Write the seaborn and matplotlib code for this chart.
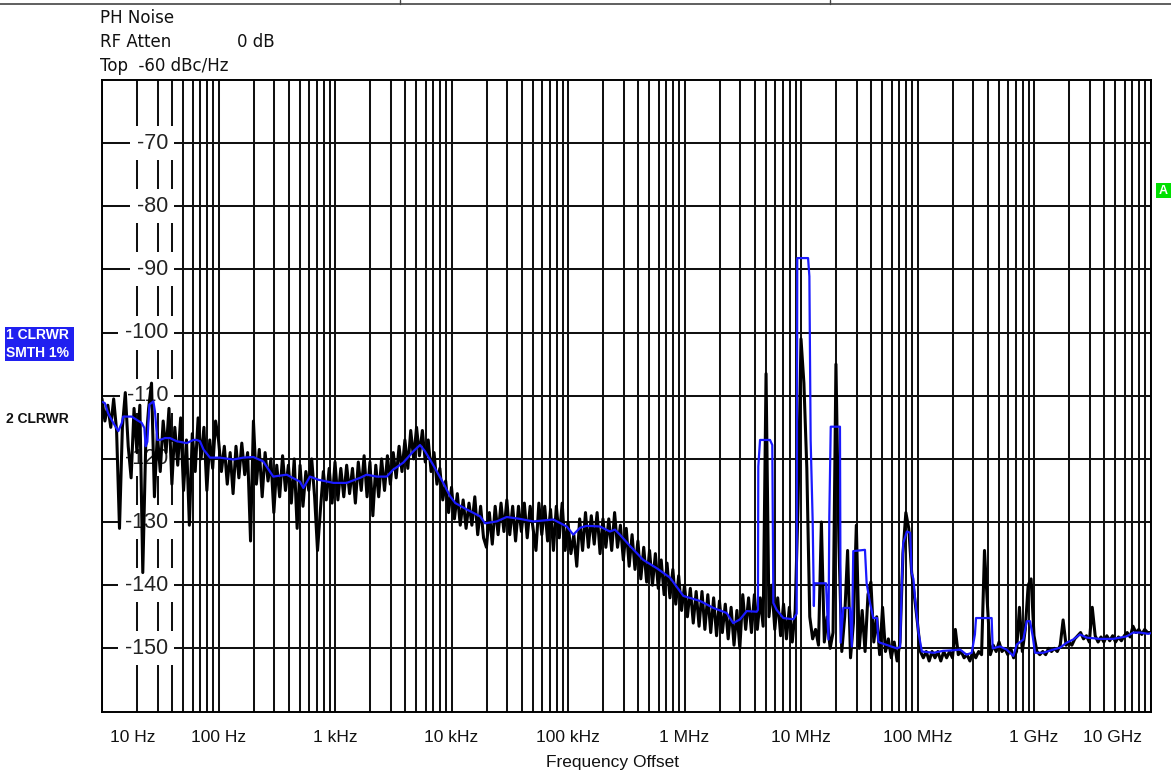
import matplotlib
matplotlib.use("Agg")
import matplotlib.pyplot as plt
from matplotlib.lines import Line2D
from matplotlib.patches import Rectangle
from matplotlib.transforms import blended_transform_factory
import seaborn as sns
import pandas as pd

# ---------------- data ----------------
# sweep mantissas of the analyzer (40 points per decade)
mantissa = [1.000, 1.059, 1.122, 1.189, 1.259, 1.334, 1.413, 1.496, 1.585, 1.679,
            1.778, 1.884, 1.995, 2.113, 2.239, 2.371, 2.512, 2.661, 2.818, 2.985,
            3.162, 3.350, 3.548, 3.758, 3.981, 4.217, 4.467, 4.732, 5.012, 5.309,
            5.623, 5.957, 6.310, 6.683, 7.079, 7.499, 7.943, 8.414, 8.913, 9.441]
decades = [1e1, 1e2, 1e3, 1e4, 1e5, 1e6, 1e7, 1e8, 1e9]

# trace 2 (raw, black), dBc/Hz, one list per decade
black_10Hz = [-110.5, -114, -111.5, -115, -110.5, -115.5, -131, -115, -109.5, -118,
              -123, -112, -119, -111.5, -138, -118, -112, -108, -126, -116,
              -122, -114, -119, -112, -124, -115, -121, -113.5, -125, -117,
              -130.5, -116, -122, -113.5, -120, -115, -125, -117, -121.5, -114]
black_100Hz = [-117, -122, -118, -124, -119, -125.5, -118, -123, -117.5, -122.5,
               -119, -133, -114, -124, -118.5, -126, -119, -123.5, -120, -128.5,
               -121, -126, -119.5, -125, -121, -127, -120, -131, -121, -127.5,
               -122, -125, -120, -126, -134.5, -128, -122, -126.5, -121.5, -127]
black_1kHz = [-120.5, -126.5, -121.5, -126, -121, -125.5, -121.5, -127, -120.5, -125,
              -119.5, -126, -120.5, -129, -121, -126, -120, -125, -119.5, -124,
              -119, -123, -118, -122, -117, -121.5, -115.5, -120, -115, -119.5,
              -115.5, -120.5, -117, -122, -119, -124, -121.5, -126.5, -123.5, -128.5]
black_10kHz = [-124.5, -129.5, -125.5, -130.5, -126.5, -131, -127, -130.5, -126, -132,
               -127.5, -132.5, -134, -128.5, -133.5, -127.5, -132, -127, -131.5, -126.5,
               -132, -127.5, -133, -127.5, -131.5, -127, -132.5, -127.5, -131, -134.5,
               -127, -132, -127.5, -133, -128, -134.5, -127.5, -132.5, -127, -134.5]
black_100kHz = [-130, -135, -132, -137, -129.5, -134.5, -128.5, -134, -129, -133.5,
                -128.5, -135, -129.5, -134, -129.5, -134.5, -128.5, -134, -130.5, -136,
                -131, -137, -132, -137.5, -133, -139, -134, -139.5, -134.5, -140,
                -135, -140.5, -136, -141.5, -136.5, -142, -137.5, -143, -138.5, -144]
black_1MHz = [-140, -145, -140.5, -146, -141, -146.5, -141, -147, -141.5, -147.5,
              -142, -148, -142.5, -147.5, -143, -148.5, -143.5, -149.5, -144, -150,
              -141.5, -147, -142, -147.5, -141.5, -147, -142, -146.5, -106.5, -145,
              -140, -147, -142, -148, -143, -148.5, -143.5, -149, -144, -127]
black_10MHz = [-101, -108, -121.5, -145, -148.5, -147, -149.5, -130, -149, -145,
               -150, -147.5, -105, -133, -150.5, -145, -134.5, -151.5, -146, -130.5,
               -150, -144, -150.5, -141.5, -139.5, -149, -145, -151, -143.5, -150.5,
               -148.5, -151.5, -149, -152, -149, -135, -128.5, -131, -138, -142]
black_100MHz = [-146, -150.5, -151.5, -150.5, -152, -150.5, -151.5, -150.5, -152, -150.5,
                -151.5, -150.5, -151.5, -147, -151, -150.5, -151.5, -151, -152, -150.5,
                -151.5, -150.5, -151, -134.5, -143, -151, -149.5, -150.5, -149, -150.5,
                -150, -151, -150, -151.5, -150.5, -143.5, -150.5, -147, -140, -139]
black_1GHz = [-148, -150.5, -151, -150.5, -151, -150, -150.5, -150, -150.5, -149.5,
              -145.5, -149.5, -149, -149.5, -148.5, -148, -147.5, -148.5, -148, -149,
              -143.5, -148, -149, -148.2, -149, -148, -148.8, -148, -149, -148.2,
              -148.8, -148, -147.5, -148.2, -146.5, -147.5, -147, -147.8, -147, -147.5]
black_end = (1e10, -147.5)

# trace 1 (smoothed 1 %, blue)
blue_freq = [10.2, 10.6, 11.3, 12.5, 13.8, 14.8, 15.2, 18.0, 19.8, 21.9,
             23.1, 23.7, 24.5, 25.5, 27.6, 28.5, 29.8, 31.5, 34.7, 38.3,
             43.7, 53.3, 60.8, 65.0, 69.3, 74.3, 84.5, 103, 134, 163,
             199, 242, 295, 385, 500, 535, 610, 720, 970,
             1.26e3, 1.64e3, 1.87e3, 2.28e3, 2.78e3, 3.16e3, 3.85e3, 4.70e3, 5.37e3, 5.93e3,
             6.98e3, 8.5e3, 9.71e3,
             1.08e4, 1.35e4, 1.76e4, 1.94e4, 2.44e4, 2.98e4, 3.87e4, 5.04e4, 7.48e4, 9.76e4,
             1.11e5, 1.27e5, 1.45e5, 1.88e5, 2.29e5, 2.53e5, 2.79e5, 3.41e5, 4.43e5, 5.77e5,
             7.51e5, 9.78e5,
             1.36e6, 1.77e6, 2.30e6, 2.62e6, 3.00e6, 3.42e6, 4.17e6, 4.27e6, 4.30e6, 4.45e6,
             5.42e6, 5.67e6, 5.79e6, 6.18e6, 7.05e6, 8.60e6, 9.18e6, 9.29e6,
             1.15e7, 1.18e7, 1.21e7, 1.26e7, 1.29e7, 1.30e7, 1.64e7, 1.72e7, 1.75e7, 1.80e7,
             2.16e7, 2.19e7, 2.31e7, 2.63e7, 2.73e7, 2.81e7, 3.54e7, 3.66e7, 3.91e7, 4.17e7,
             4.50e7, 4.61e7, 4.76e7, 6.64e7, 7.09e7, 7.32e7, 7.55e7, 8.10e7, 8.65e7, 8.90e7,
             9.22e7, 9.52e7,
             1.02e8, 1.09e8, 1.37e8, 1.66e8, 2.03e8, 2.32e8, 2.64e8, 2.92e8, 3.11e8, 3.18e8,
             4.33e8, 4.42e8, 5.11e8, 5.83e8, 6.65e8, 7.11e8, 8.10e8, 8.66e8, 9.25e8, 9.75e8,
             1.02e9, 1.20e9, 1.46e9, 1.67e9, 1.91e9, 2.17e9, 2.48e9, 2.83e9, 3.68e9, 4.80e9,
             6.25e9, 7.12e9, 8.14e9, 9.57e9, 1.0e10]
blue_db = [-111.0, -111.2, -112.8, -114.3, -115.6, -114.3, -113.3, -113.3, -113.8, -114.3,
           -115.1, -118.0, -117.3, -111.4, -110.9, -112.5, -117.0, -117.0, -116.7, -116.7,
           -117.2, -117.5, -117.0, -117.0, -117.2, -118.5, -119.8, -119.8, -120.1, -119.8,
           -119.7, -120.4, -122.8, -122.5, -123.6, -124.6, -122.8, -123.3, -123.8,
           -123.8, -123.0, -122.5, -122.8, -122.8, -121.7, -120.6, -118.8, -117.8, -118.8,
           -121.0, -123.8, -125.9,
           -127.0, -128.0, -129.1, -130.2, -129.9, -129.2, -129.5, -129.9, -129.6, -130.7,
           -132.0, -130.9, -130.6, -130.7, -131.5, -131.2, -132.0, -133.8, -136.0, -137.3,
           -138.8, -141.7,
           -142.5, -143.6, -144.4, -146.0, -145.4, -144.1, -144.2, -143.9, -121.2, -117.0,
           -117.0, -117.8, -142.8, -143.9, -145.2, -145.4, -144.5, -88.2,
           -88.2, -91.1, -117.0, -130.0, -143.3, -139.7, -139.7, -148.6, -129.1, -114.9,
           -114.9, -149.1, -143.6, -143.6, -149.7, -134.6, -134.4, -139.7, -142.8, -145.2,
           -145.2, -148.9, -149.1, -150.0, -149.8, -140.0, -133.3, -131.5, -131.7, -138.0,
           -139.0, -142.0,
           -147.5, -150.5, -150.7, -150.4, -150.3, -150.2, -151.0, -150.7, -147.8, -145.2,
           -145.2, -150.0, -149.7, -150.2, -151.2, -149.4, -148.6, -145.7, -145.7, -148.1,
           -150.7, -150.7, -150.2, -149.9, -149.1, -148.6, -147.8, -148.3, -148.5, -148.5,
           -148.1, -147.5, -147.5, -147.7, -147.6]

ytick_values = [-70, -80, -90, -100, -110, -120, -130, -140, -150]
xtick_values = [1e1, 1e2, 1e3, 1e4, 1e5, 1e6, 1e7, 1e8, 1e9, 1e10]
xtick_labels = ["10 Hz", "100 Hz", "1 kHz", "10 kHz", "100 kHz",
                "1 MHz", "10 MHz", "100 MHz", "1 GHz", "10 GHz"]

# ---------------- build frames ----------------
black_lists = [black_10Hz, black_100Hz, black_1kHz, black_10kHz, black_100kHz,
               black_1MHz, black_10MHz, black_100MHz, black_1GHz]
bf, bd = [], []
for dec, vals in zip(decades, black_lists):
    for m, v in zip(mantissa, vals):
        bf.append(m * dec)
        bd.append(v)
bf.append(black_end[0])
bd.append(black_end[1])
df_black = pd.DataFrame({"freq": bf, "level": bd})
df_blue = pd.DataFrame({"freq": blue_freq, "level": blue_db})

# ---------------- figure ----------------
sns.set_style("white")
plt.rcParams["font.family"] = ["Liberation Sans", "DejaVu Sans"]

W, H = 1171, 774
fig = plt.figure(figsize=(W / 100, H / 100), dpi=100)
L, R, T, B = 102, 1150.5, 80, 711.5
ax = fig.add_axes([L / W, 1 - B / H, (R - L) / W, (B - T) / H])

sns.lineplot(data=df_black, x="freq", y="level", ax=ax, color="black",
             lw=2.2, sort=False, estimator=None, zorder=4)
sns.lineplot(data=df_blue, x="freq", y="level", ax=ax, color="#1a1aff",
             lw=1.6, sort=False, estimator=None, zorder=5)

ax.set_xscale("log")
ax.set_xlim(1e1, 1e10)
ax.set_ylim(-160, -60)
ax.set_xlabel("")
ax.set_ylabel("")

# grid: every 1..9 x decade, every 10 dB
minor = [m * d for d in decades for m in range(2, 10)]
ax.set_xticks(xtick_values)
ax.set_xticks(minor, minor=True)
ax.set_yticks(ytick_values)
ax.tick_params(axis="both", which="both", length=0, labelbottom=False, labelleft=False)
ax.set_axisbelow(True)
ax.grid(True, which="both", axis="x", color="#111111", lw=1.45)
ax.grid(True, which="major", axis="y", color="#111111", lw=1.45)
for s in ax.spines.values():
    s.set_color("black")
    s.set_linewidth(1.4)
    s.set_visible(True)

# y labels drawn inside the plot with white background
ytr = blended_transform_factory(ax.transAxes, ax.transData)
lab_x = (168 - L) / (R - L)
for v in ytick_values:
    ax.text(lab_x, v, f"{v}", transform=ytr, ha="right", va="center",
            fontsize=15.5, color="#222222", zorder=3,
            bbox=dict(boxstyle="square,pad=0.3", fc="white", ec="none"))

# x labels below
xtr = blended_transform_factory(ax.transData, ax.transAxes)
ylab = -(738 - B) / (B - T)
for i, (pos, lab) in enumerate(zip(xtick_values, xtick_labels)):
    if i == 0:
        ax.text((110 - L) / (R - L), ylab, lab, transform=ax.transAxes,
                ha="left", va="center", fontsize=12.5, color="#111111")
    elif i == len(xtick_values) - 1:
        ax.text((1142 - L) / (R - L), ylab, lab, transform=ax.transAxes,
                ha="right", va="center", fontsize=12.5, color="#111111")
    else:
        ax.text(pos, ylab, lab, transform=xtr, ha="center", va="center",
                fontsize=12.5, color="#111111")

fig.text(612 / W, 1 - 763 / H, "Frequency Offset", ha="center", va="center",
         fontsize=12.5, color="#111111")

# header texts
hdr = dict(family=["DejaVu Sans"], fontsize=12, color="#111111", va="center", ha="left")
fig.text(100 / W, 1 - 18 / H, "PH Noise", **hdr)
fig.text(100 / W, 1 - 42 / H, "RF Atten", **hdr)
fig.text(237 / W, 1 - 42 / H, "0 dB", **hdr)
fig.text(100 / W, 1 - 66 / H, "Top  -60 dBc/Hz", **hdr)

# trace annotations on the left
fig.patches.append(Rectangle((5 / W, 1 - 361 / H), 69 / W, 34 / H,
                             transform=fig.transFigure, fc="#2020f0", ec="none"))
fig.text(6 / W, 1 - 335 / H, "1 CLRWR", color="white", fontsize=10,
         fontweight="bold", va="center", ha="left")
fig.text(6 / W, 1 - 353 / H, "SMTH 1%", color="white", fontsize=10,
         fontweight="bold", va="center", ha="left")
fig.text(6 / W, 1 - 419 / H, "2 CLRWR", color="#111111", fontsize=10,
         fontweight="bold", va="center", ha="left")

# green limit-line marker "A"
fig.patches.append(Rectangle((1156 / W, 1 - 198 / H), 15 / W, 15 / H,
                             transform=fig.transFigure, fc="#00e000", ec="none"))
fig.text(1163.5 / W, 1 - 190.5 / H, "A", color="white", fontsize=9,
         fontweight="bold", va="center", ha="center")

# top frame remnant
fig.lines.append(Line2D([0, 1], [1 - 4 / H, 1 - 4 / H], transform=fig.transFigure,
                        color="#444444", lw=1.2))
for xx in (400, 830):
    fig.lines.append(Line2D([xx / W, xx / W], [1 - 4 / H, 1], transform=fig.transFigure,
                            color="#444444", lw=1.0))

fig.savefig("out.png", dpi=100, facecolor="white")
